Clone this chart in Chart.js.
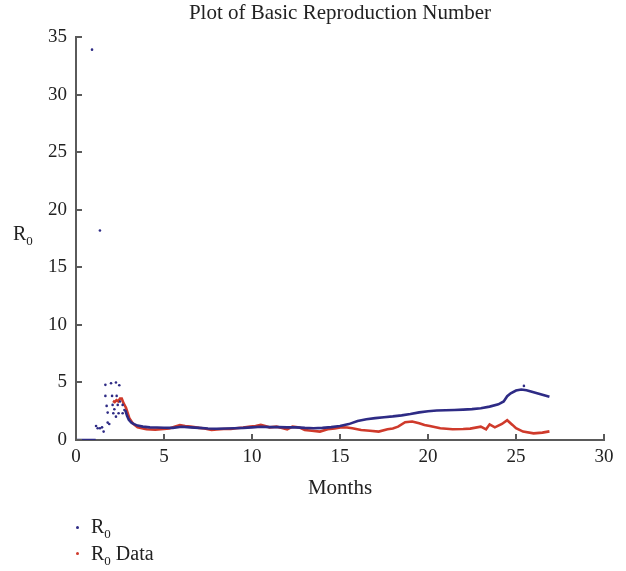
<!doctype html>
<html lang="en">
  <head>
    <meta charset="utf-8">
    <title>Plot of Basic Reproduction Number</title>
    <script src="https://cdn.jsdelivr.net/npm/chart.js"></script>
    <style>
      body { margin: 0; background: #fff; }
      #wrap { position: relative; width: 626px; height: 571px; font-family: "Liberation Serif", serif; color: #222; }
      .lbl { position: absolute; font-size: 20px; line-height: 1; white-space: nowrap; }
      .lbl sub { font-size: 13px; vertical-align: -5px; }
      .dot { position: absolute; width: 3px; height: 3px; border-radius: 50%; }
    </style>
  </head>
  <body>
  <div id="wrap">
    <canvas id="myChart" width="626" height="571"></canvas>
    <div class="lbl" style="left:13px; top:223px;">R<sub>0</sub></div>
    <div class="dot" style="left:76px; top:526px; background:#2e2b85;"></div>
    <div class="lbl" style="left:91px; top:516px;">R<sub>0</sub></div>
    <div class="dot" style="left:76px; top:552px; background:#cf3a2b;"></div>
    <div class="lbl" style="left:91px; top:543px;">R<sub>0</sub> Data</div>
  </div>
  <script>
    // R0 model (smooth part), null = gap
    const blueMonths = [0, 0.2, 0.4, 0.6, 0.8, 1.0, 1.12, 1.13,
      2.8, 2.9, 3.0, 3.15, 3.3, 3.5, 3.8, 4.2, 4.6, 5.0, 5.5, 6.0, 6.5, 7.0, 7.5, 8.0, 8.5, 9.0, 9.5,
      10.0, 10.5, 11.0, 11.5, 12.0, 12.5, 13.0, 13.5, 14.0, 14.5, 15.0, 15.5, 16.0, 16.5, 17.0, 17.5,
      18.0, 18.5, 19.0, 19.5, 20.0, 20.5, 21.0, 21.5, 22.0, 22.5, 23.0, 23.5, 24.0, 24.3, 24.5, 24.7,
      25.0, 25.3, 25.6, 26.0, 26.5, 26.9];
    const blueValues = [0, 0, 0, 0, 0, 0, 0, null,
      2.6, 2.1, 1.75, 1.5, 1.38, 1.25, 1.16, 1.1, 1.08, 1.06, 1.05, 1.15, 1.1, 1.05, 1.0, 0.98, 1.0, 1.02, 1.05,
      1.1, 1.15, 1.12, 1.12, 1.1, 1.1, 1.05, 1.02, 1.05, 1.12, 1.22, 1.38, 1.65, 1.8, 1.9, 1.98,
      2.05, 2.14, 2.25, 2.4, 2.5, 2.56, 2.58, 2.61, 2.64, 2.68, 2.76, 2.9, 3.1, 3.35, 3.8, 4.05,
      4.3, 4.38, 4.32, 4.15, 3.92, 3.75];

    // R0 model, scattered early points
    const scatMonths = [0.91, 1.36, 1.14, 1.23, 1.36, 1.48, 1.57, 1.67, 1.67, 1.74, 1.8, 1.8, 1.89, 1.99, 2.05,
      2.08, 2.12, 2.18, 2.27, 2.31, 2.37, 2.42, 2.46, 2.5, 2.65, 2.65, 2.75, 2.27, 25.45];
    const scatValues = [33.9, 18.2, 1.22, 1.02, 1.02, 1.1, 0.73, 4.79, 3.83, 2.96, 2.38, 1.51, 1.39, 4.93, 3.83,
      3.05, 2.32, 2.67, 4.99, 3.83, 3.05, 2.32, 4.76, 3.34, 3.05, 2.32, 2.61, 2.03, 4.7];

    // R0 from data
    const redMonths = [2.1, 2.2, 2.3, 2.4, 2.5, 2.6, 2.7, 2.84, 3.03, 3.22, 3.5, 4.0, 4.5, 5.0, 5.3, 5.6, 5.9,
      6.2, 6.5, 7.0, 7.3, 7.7, 8.0, 8.4, 8.8, 9.1, 9.5, 9.9, 10.2, 10.5, 10.8, 11.0, 11.4, 11.7, 12.0,
      12.3, 12.7, 13.0, 13.4, 13.86, 14.3, 14.7, 15.1, 15.4, 15.7, 16.2, 16.7, 17.2, 17.7, 18.0, 18.3,
      18.7, 19.1, 19.5, 19.8, 20.1, 20.7, 21.4, 22.0, 22.4, 23.0, 23.3, 23.5, 23.8, 24.2, 24.5, 24.8,
      25.0, 25.4, 26.0, 26.5, 26.9];
    const redValues = [3.4, 3.3, 3.45, 3.35, 3.6, 3.6, 3.2, 2.8, 1.9, 1.45, 1.1, 0.93, 0.9, 0.95, 1.0, 1.15, 1.3,
      1.22, 1.16, 1.05, 1.0, 0.87, 0.92, 0.96, 0.95, 1.02, 1.08, 1.16, 1.22, 1.31, 1.2, 1.1, 1.16, 1.05, 0.93,
      1.16, 1.08, 0.87, 0.8, 0.73, 0.93, 1.0, 1.1, 1.08, 1.02, 0.87, 0.8, 0.73, 0.93, 1.0, 1.16,
      1.54, 1.6, 1.45, 1.3, 1.22, 1.02, 0.93, 0.95, 0.99, 1.16, 0.93, 1.36, 1.1, 1.39, 1.72, 1.31,
      1.02, 0.73, 0.58, 0.64, 0.75];

    const xTicks = [0, 5, 10, 15, 20, 25, 30];
    const yTicks = [0, 5, 10, 15, 20, 25, 30, 35];

    const blue = '#2e2b85';
    const red = '#cf3a2b';
    const axisColor = '#5a5a5a';
    const serif = '"Liberation Serif", serif';

    function pts(xs, ys) {
      return xs.map((x, i) => ({x: x, y: ys[i]}));
    }

    // short tick marks pointing into the plot
    const innerTicks = {
      id: 'innerTicks',
      afterDraw: (chart) => {
        const ctx = chart.ctx;
        const xs = chart.scales.x, ys = chart.scales.y;
        ctx.save();
        ctx.strokeStyle = axisColor;
        ctx.lineWidth = 2;
        ctx.beginPath();
        xTicks.forEach(v => {
          const px = Math.round(xs.getPixelForValue(v));
          ctx.moveTo(px, xs.top);
          ctx.lineTo(px, xs.top - 6);
        });
        yTicks.forEach(v => {
          const py = Math.round(ys.getPixelForValue(v));
          ctx.moveTo(ys.right, py);
          ctx.lineTo(ys.right + 6, py);
        });
        ctx.stroke();
        ctx.restore();
      }
    };

    const ctx = document.getElementById('myChart');
    const myChart = new Chart(ctx, {
      type: 'scatter',
      data: {
        datasets: [{
          label: 'R0',
          data: pts(scatMonths, scatValues),
          backgroundColor: blue,
          borderColor: blue,
          borderWidth: 0,
          pointRadius: 1.3,
          showLine: false
        }, {
          label: 'R0 line',
          data: pts(blueMonths, blueValues),
          borderColor: blue,
          backgroundColor: blue,
          borderWidth: 2.6,
          pointRadius: 0,
          showLine: true,
          spanGaps: false
        }, {
          label: 'R0 Data',
          data: pts(redMonths, redValues),
          borderColor: red,
          backgroundColor: red,
          borderWidth: 2.6,
          pointRadius: 0,
          showLine: true
        }]
      },
      plugins: [innerTicks],
      options: {
        responsive: false,
        animation: false,
        layout: { padding: { left: 0, right: 22, top: 0, bottom: 0 } },
        plugins: {
          legend: { display: false },
          tooltip: { enabled: false },
          title: {
            display: true,
            fullSize: false,
            text: 'Plot of Basic Reproduction Number',
            color: '#222',
            font: { family: serif, size: 21, weight: 'normal', lineHeight: 1.2 },
            padding: { top: 1, bottom: 10.8 }
          }
        },
        scales: {
          x: {
            type: 'linear',
            min: 0,
            max: 30,
            afterFit: (s) => { s.height = 131; },
            afterBuildTicks: (s) => { s.ticks = xTicks.map(v => ({value: v})); },
            grid: { display: false, drawTicks: false },
            border: { color: axisColor, width: 2 },
            ticks: { color: '#222', padding: 6, maxRotation: 0, font: { family: serif, size: 19 } },
            title: {
              display: true,
              text: 'Months',
              color: '#222',
              font: { family: serif, size: 21, lineHeight: 1.2 },
              padding: { top: 0, bottom: 70 }
            }
          },
          y: {
            min: 0,
            max: 35,
            afterFit: (s) => { s.width = 76; },
            afterBuildTicks: (s) => { s.ticks = yTicks.map(v => ({value: v})); },
            grid: { display: false, drawTicks: false },
            border: { color: axisColor, width: 2 },
            ticks: { color: '#222', padding: 9, font: { family: serif, size: 19 } }
          }
        }
      }
    });
  </script>
  </body>
</html>
